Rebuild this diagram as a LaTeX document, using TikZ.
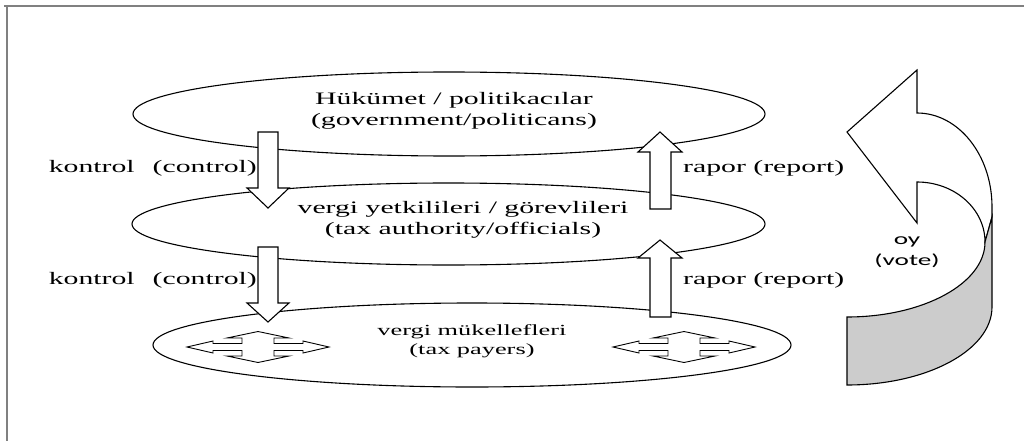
\documentclass[tikz,border=0pt]{standalone}
\usepackage{fontspec}
\setmainfont{Liberation Serif}[FakeStretch=1.7]
\newfontfamily\votefont{Carlito}[FakeStretch=1.7]
\usetikzlibrary{shapes.geometric}

\begin{document}
\begin{tikzpicture}[x=1pt,y=-1pt,
  layer/.style={draw, ellipse, line width=1.1pt, inner sep=0pt},
  lbl/.style={font=\fontsize{17.5}{21}\selectfont, inner sep=0pt, align=center},
  smalllbl/.style={font=\fontsize{15.5}{18.6}\selectfont, inner sep=0pt, align=center},
  sidelbl/.style={font=\fontsize{17.5}{21}\selectfont, inner sep=0pt},
  votelbl/.style={font=\votefont\fontsize{16}{21}\selectfont, inner sep=0pt, align=center},
  blockarrow/.style={draw, fill=white, line width=1.1pt, line join=miter},
  quadarrow/.style={draw, fill=white, line width=0.9pt, line join=miter},
  frameline/.style={draw=black!50, line width=1.8pt},
  pics/quad/.style={code={
    \path[quadarrow] (71,0) -- (45,-6) -- (45,-3.5) -- (16,-3.5) -- (16,-9) -- (31,-9)
      -- (0,-15.5) -- (-31,-9) -- (-16,-9) -- (-16,-3.5) -- (-45,-3.5) -- (-45,-6)
      -- (-71,0) -- (-45,6) -- (-45,3.5) -- (-16,3.5) -- (-16,9) -- (-31,9)
      -- (0,15.5) -- (31,9) -- (16,9) -- (16,3.5) -- (45,3.5) -- (45,6) -- cycle;
  }}]
\useasboundingbox (0,0) rectangle (1024,441);
\fill[white] (0,0) rectangle (1024,441);

% frame edges
\draw[frameline] (4,6) -- (1024,6);
\draw[frameline] (7,6) -- (7,441);

% the three layers
\node[layer, minimum width=632pt, minimum height=84pt] (gov) at (449,114) {};
\node[layer, minimum width=633pt, minimum height=82pt] (auth) at (448.5,224) {};
\node[layer, minimum width=638pt, minimum height=84pt] (payers) at (472,345) {};

\node[lbl] (govtxt) at (454,111) {Hükümet / politikacılar\\(government/politicans)};
\node[lbl] (authtxt) at (463,220) {vergi yetkilileri / görevlileri\\(tax authority/officials)};
\node[smalllbl] (payerstxt) at (472,341) {vergi mükellefleri\\(tax payers)};

% control arrows (downwards)
\path[blockarrow] (258,132) -- (278,132) -- (278,188) -- (289,188) -- (268,208)
  -- (247,188) -- (258,188) -- cycle;
\path[blockarrow] (258,247) -- (278,247) -- (278,303) -- (289,303) -- (268,322)
  -- (247,303) -- (258,303) -- cycle;

% report arrows (upwards)
\path[blockarrow] (650,209) -- (671,209) -- (671,152) -- (682,152) -- (660,132)
  -- (638,152) -- (650,152) -- cycle;
\path[blockarrow] (650,317) -- (671,317) -- (671,258) -- (682,258) -- (660,240)
  -- (638,258) -- (650,258) -- cycle;

\node[sidelbl, anchor=east] (ctrl1) at (257,168) {kontrol\hspace{18pt}(control)};
\node[sidelbl, anchor=east] (ctrl2) at (257,280) {kontrol\hspace{18pt}(control)};
\node[sidelbl, anchor=west] (rep1) at (683,168) {rapor (report)};
\node[sidelbl, anchor=west] (rep2) at (683,280) {rapor (report)};

% movement among tax payers
\pic at (258,347) {quad};
\pic at (684,347) {quad};

% vote arrow: white top face
\path[draw, fill=white, line width=1.1pt, line join=miter]
  (847,132) -- (917,70) -- (917,113)
  arc[start angle=-90, end angle=0, x radius=75, y radius=94]
  -- (992,217) -- (985,242)
  arc[start angle=0, end angle=-90, x radius=68, y radius=60]
  -- (917,223) -- cycle;
% vote arrow: shaded front face
\path[draw, fill=black!20, line width=1.1pt, line join=miter]
  (992,217) -- (992,307)
  arc[start angle=0, end angle=90, x radius=145, y radius=78]
  -- (847,317)
  arc[start angle=90, end angle=0, x radius=138, y radius=75]
  -- cycle;

\node[votelbl] (vote) at (907,252) {oy\\(vote)};
\end{tikzpicture}
\end{document}
